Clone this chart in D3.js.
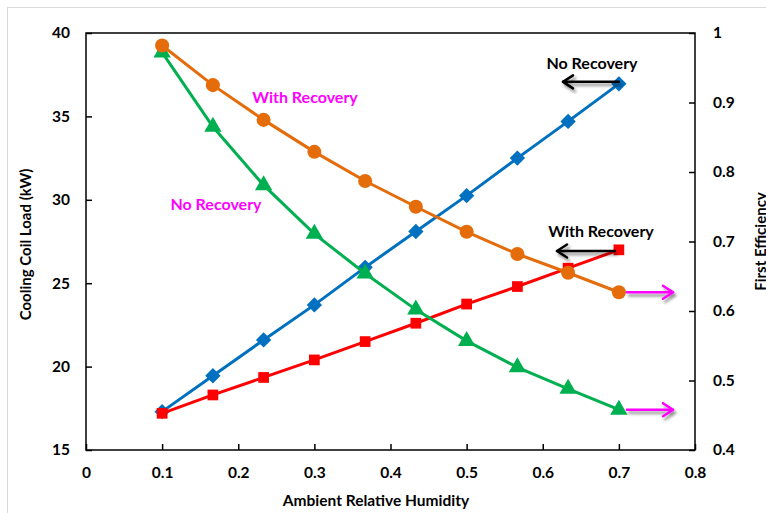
<!DOCTYPE html>
<html>
<head>
<meta charset="utf-8">
<script src="https://cdn.jsdelivr.net/npm/d3@7"></script>
<style>
  html, body { margin: 0; padding: 0; background: #fff; overflow: hidden; }
  svg { display: block; font-family: Lato, "Liberation Sans", sans-serif; font-weight: bold; }
</style>
</head>
<body>
<svg id="chart" width="766" height="513"></svg>
<script>
// Ambient relative humidity sample points
const humidity = [0.1, 0.1667, 0.2333, 0.3, 0.3667, 0.4333, 0.5, 0.5667, 0.6333, 0.7];

// Cooling coil load (kW), left axis
const loadNoRecovery   = [17.3, 19.45, 21.6, 23.7, 25.95, 28.1, 30.25, 32.5, 34.7, 36.95];
const loadWithRecovery = [17.2, 18.3, 19.35, 20.4, 21.5, 22.6, 23.75, 24.8, 25.9, 27.0];

// First efficiency, right axis
const effNoRecovery   = [0.972, 0.865, 0.781, 0.711, 0.654, 0.602, 0.557, 0.519, 0.488, 0.458];
const effWithRecovery = [0.982, 0.925, 0.875, 0.829, 0.787, 0.750, 0.714, 0.682, 0.655, 0.627];

const xTicks = [0, 0.1, 0.2, 0.3, 0.4, 0.5, 0.6, 0.7, 0.8];
const yLeftTicks = [15, 20, 25, 30, 35, 40];
const yRightTicks = [0.4, 0.5, 0.6, 0.7, 0.8, 0.9, 1];

const svg = d3.select("#chart");
const plot = { left: 86, right: 695, top: 33, bottom: 450 };

// Outer chart frame
svg.append("rect")
  .attr("x", 7.5).attr("y", 7.5).attr("width", 800).attr("height", 600)
  .attr("fill", "none").attr("stroke", "#d9d9d9").attr("stroke-width", 1);

const x = d3.scaleLinear().domain([0, 0.8]).range([plot.left, plot.right]);
const yL = d3.scaleLinear().domain([15, 40]).range([plot.bottom, plot.top]);
const yR = d3.scaleLinear().domain([0.4, 1]).range([plot.bottom, plot.top]);

const defs = svg.append("defs");
const shadow = defs.append("filter").attr("id", "shadow")
  .attr("x", "-20%").attr("y", "-100%").attr("width", "140%").attr("height", "300%");
shadow.append("feGaussianBlur").attr("in", "SourceAlpha").attr("stdDeviation", 1.6).attr("result", "b");
shadow.append("feOffset").attr("in", "b").attr("dx", 2).attr("dy", 2.5).attr("result", "o");
shadow.append("feComponentTransfer").attr("in", "o").attr("result", "s")
  .append("feFuncA").attr("type", "linear").attr("slope", 0.45);
const merge = shadow.append("feMerge");
merge.append("feMergeNode").attr("in", "s");
merge.append("feMergeNode").attr("in", "SourceGraphic");

// Axes
const tickFont = 15.5;
const fmtX = d => d === 0 ? "0" : d3.format(".1f")(d);
const gx = svg.append("g").attr("transform", `translate(0,${plot.bottom})`)
  .call(d3.axisBottom(x).tickValues(xTicks).tickFormat(fmtX).tickSizeInner(-6).tickSizeOuter(0).tickPadding(17));
const gyl = svg.append("g").attr("transform", `translate(${plot.left},0)`)
  .call(d3.axisLeft(yL).tickValues(yLeftTicks).tickFormat(d3.format("d")).tickSizeInner(-6).tickSizeOuter(0).tickPadding(16));
const fmtR = d => d === 1 ? "1" : d3.format(".1f")(d);
const gyr = svg.append("g").attr("transform", `translate(${plot.right},0)`)
  .call(d3.axisRight(yR).tickValues(yRightTicks).tickFormat(fmtR).tickSizeInner(-6).tickSizeOuter(0).tickPadding(18));

[gx, gyl, gyr].forEach(g => {
  g.select(".domain").remove();
  g.selectAll(".tick line").attr("stroke", "#000").attr("stroke-width", 1.5);
  g.selectAll(".tick text").attr("font-size", tickFont).attr("font-family", "Lato, sans-serif")
    .attr("font-weight", "bold").attr("fill", "#000");
});
gyl.selectAll(".tick text").attr("text-anchor", "end");
gyr.selectAll(".tick text").attr("text-anchor", "start");

// Plot frame
svg.append("rect")
  .attr("x", plot.left).attr("y", plot.top)
  .attr("width", plot.right - plot.left).attr("height", plot.bottom - plot.top)
  .attr("fill", "none").attr("stroke", "#000").attr("stroke-width", 1.5);

// Axis titles
svg.append("text")
  .attr("x", 376).attr("y", 506)
  .attr("text-anchor", "middle").attr("font-size", 15.5)
  .text("Ambient Relative Humidity");
svg.append("text")
  .attr("transform", `translate(31,${(plot.top + plot.bottom) / 2 + 3}) rotate(-90)`)
  .attr("text-anchor", "middle").attr("font-size", 15)
  .text("Cooling Coil Load (kW)");
svg.append("text")
  .attr("transform", `translate(766,${(plot.top + plot.bottom) / 2}) rotate(-90)`)
  .attr("text-anchor", "middle").attr("font-size", 15)
  .text("First Efficiency");

// Series
const series = [
  { values: loadNoRecovery,   scale: yL, color: "#0070C0", marker: "diamond" },
  { values: loadWithRecovery, scale: yL, color: "#FF0000", marker: "square" },
  { values: effNoRecovery,    scale: yR, color: "#00B050", marker: "triangle" },
  { values: effWithRecovery,  scale: yR, color: "#E46C0A", marker: "circle" }
];
const symbolType = {
  diamond: d3.symbolDiamond2, square: d3.symbolSquare,
  triangle: d3.symbolTriangle, circle: d3.symbolCircle
};
const symbolSize = { diamond: 150, square: 115, triangle: 130, circle: 155 };

series.forEach(s => {
  const pts = humidity.map((h, i) => [x(h), s.scale(s.values[i])]);
  svg.append("path")
    .attr("d", d3.line()(pts))
    .attr("fill", "none").attr("stroke", s.color).attr("stroke-width", 3);
  const sym = d3.symbol().type(symbolType[s.marker]).size(symbolSize[s.marker]);
  svg.append("g").selectAll("path").data(pts).join("path")
    .attr("transform", d => `translate(${d[0]},${d[1]})`)
    .attr("d", sym).attr("fill", s.color);
});

// Annotations
const arrow = (x1, x2, yv, color, withShadow) => {
  const g = svg.append("g").attr("stroke", color).attr("stroke-width", 2.5)
    .attr("fill", "none").attr("stroke-linecap", "round").attr("stroke-linejoin", "round");
  if (withShadow) g.attr("filter", "url(#shadow)");
  const dir = x2 > x1 ? 1 : -1;
  g.append("line").attr("x1", x1).attr("y1", yv).attr("x2", x2).attr("y2", yv);
  g.append("path").attr("d", `M${x2 - dir * 10},${yv - 6.5} L${x2},${yv} L${x2 - dir * 10},${yv + 6.5}`);
};

const label = (tx, ty, text, color) => svg.append("text")
  .attr("x", tx).attr("y", ty).attr("text-anchor", "middle").attr("dominant-baseline", "central")
  .attr("font-size", 16).attr("fill", color).text(text);

label(592, 62, "No Recovery", "#000");
arrow(x(humidity[9]), 563, yL(loadNoRecovery[9]) - 2, "#000", true);
label(601, 230, "With Recovery", "#000");
arrow(x(humidity[9]) - 4, 557, 251, "#000", true);

label(305, 96, "With Recovery", "#FF00FF");
label(216, 203, "No Recovery", "#FF00FF");
arrow(x(humidity[9]) + 8, 673, yR(effWithRecovery[9]), "#FF00FF", true);
arrow(x(humidity[9]) + 8, 673, yR(effNoRecovery[9]), "#FF00FF", true);
</script>
</body>
</html>
